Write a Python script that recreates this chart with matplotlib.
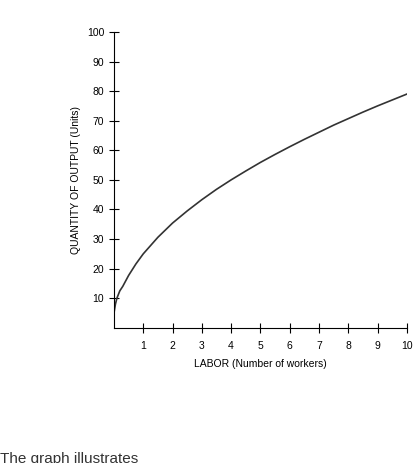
import matplotlib
matplotlib.use("Agg")
import matplotlib.pyplot as plt

labor = [0, 0.05, 0.1, 0.2, 0.3, 0.5, 0.75, 1, 1.5, 2, 2.5, 3, 3.5, 4, 4.5, 5, 5.5, 6, 6.5, 7, 7.5, 8, 8.5, 9, 9.5, 10]
output = [5, 8, 10, 12.5, 14, 17.7, 21.6, 25, 30.6, 35.4, 39.5, 43.3, 46.8, 50, 53, 55.9, 58.6, 61.2, 63.7, 66.1, 68.5, 70.7, 72.9, 75, 77, 79]
xticks = [1, 2, 3, 4, 5, 6, 7, 8, 9, 10]
yticks = [10, 20, 30, 40, 50, 60, 70, 80, 90, 100]

plt.rcParams['font.family'] = ['Liberation Sans', 'DejaVu Sans']
fig = plt.figure(figsize=(4.19, 4.63), dpi=100)
ax = fig.add_axes([0.272, 0.292, 0.699, 0.639])
ax.plot(labor, output, color='#333333', lw=1.2)
ax.set_xlim(0, 10)
ax.set_ylim(0, 100)
ax.set_xticks(xticks)
ax.set_yticks(yticks)
ax.tick_params(direction='inout', length=7, labelsize=7.5, width=0.8)
ax.tick_params(axis='x', pad=6)
for s in ['top', 'right']:
    ax.spines[s].set_visible(False)
ax.set_xlabel('LABOR (Number of workers)', fontsize=7.5, labelpad=6)
ax.set_ylabel('QUANTITY OF OUTPUT (Units)', fontsize=7.5, labelpad=4)
fig.text(0.0, 0.008, 'The graph illustrates', fontsize=11, color='#333333', va='center')
fig.savefig('out.png', dpi=100)
